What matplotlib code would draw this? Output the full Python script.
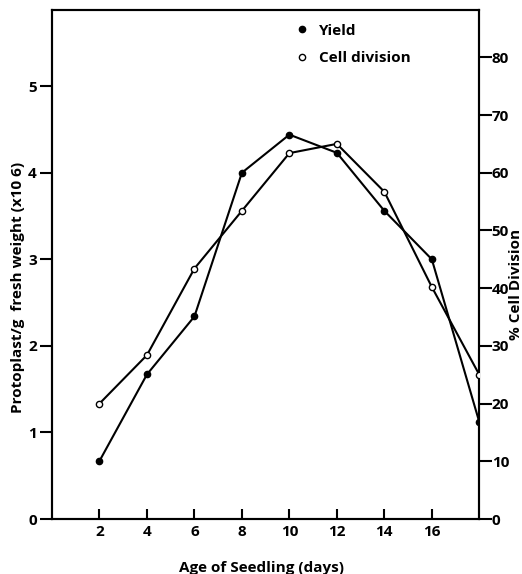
import matplotlib
matplotlib.use("Agg")
import matplotlib.pyplot as plt
from matplotlib.lines import Line2D

# data
days = [2, 4, 6, 8, 10, 12, 14, 16, 18]
yield_vals = [0.67, 1.67, 2.34, 4.0, 4.44, 4.23, 3.56, 3.0, 1.12]
cell_div = [20.0, 28.4, 43.4, 53.4, 63.4, 65.0, 56.7, 40.2, 25.0]
xticks = [2, 4, 6, 8, 10, 12, 14, 16]
left_ticks = [0, 1, 2, 3, 4, 5]
right_ticks = [0, 10, 20, 30, 40, 50, 60, 70, 80]

plt.rcParams["font.family"] = ["Open Sans", "DejaVu Sans"]
plt.rcParams["font.weight"] = "bold"

fig = plt.figure(figsize=(5.22, 5.74), dpi=100)
ax = fig.add_axes([0.0996, 0.0958, 0.8186, 0.8868])
ax2 = ax.twinx()

ax.plot(days, yield_vals, color="black", lw=1.5, marker="o", ms=4.5,
        mfc="black", mec="black", zorder=3)
ax2.plot(days, cell_div, color="black", lw=1.5, marker="o", ms=4.5,
         mfc="white", mec="black", mew=1.0, zorder=3)

ax.set_xlim(0, 18)
ax.set_ylim(0, 5.88)
ax2.set_ylim(0, 5.88 * 15)

ax.set_xticks(xticks)
ax.set_yticks(left_ticks)
ax2.set_yticks(right_ticks)

ax.tick_params(axis="x", direction="in", length=7, width=1.5, labelsize=11, pad=4)
ax.tick_params(axis="y", direction="out", length=9, width=1.5, labelsize=11, pad=2)
ax2.tick_params(axis="y", direction="out", length=9, width=1.5, labelsize=11, pad=0)
for a in (ax, ax2):
    for s in a.spines.values():
        s.set_linewidth(1.5)
    for lab in a.get_xticklabels() + a.get_yticklabels():
        lab.set_fontweight("bold")

ax.set_xlabel("Age of Seedling (days)", fontsize=11, fontweight="bold")
ax.set_ylabel("Protoplast/g  fresh weight (x10 6)", fontsize=11, fontweight="bold")
ax2.set_ylabel("% Cell Division", fontsize=11, fontweight="bold")
ax.xaxis.set_label_coords(0.49, -0.082)
ax.yaxis.set_label_coords(-0.063, 0.455)
ax2.yaxis.set_label_coords(1.069, 0.46)

handles = [
    Line2D([], [], ls="none", marker="o", ms=4.5, mfc="black", mec="black"),
    Line2D([], [], ls="none", marker="o", ms=4.5, mfc="white", mec="black"),
]
leg = ax.legend(handles, ["Yield", "Cell division"], loc="upper left",
                bbox_to_anchor=(0.535, 1.0), frameon=False, fontsize=11,
                handletextpad=0.6, labelspacing=0.9, handlelength=1.0)
for t in leg.get_texts():
    t.set_fontweight("bold")

fig.savefig("out.png", dpi=100)
